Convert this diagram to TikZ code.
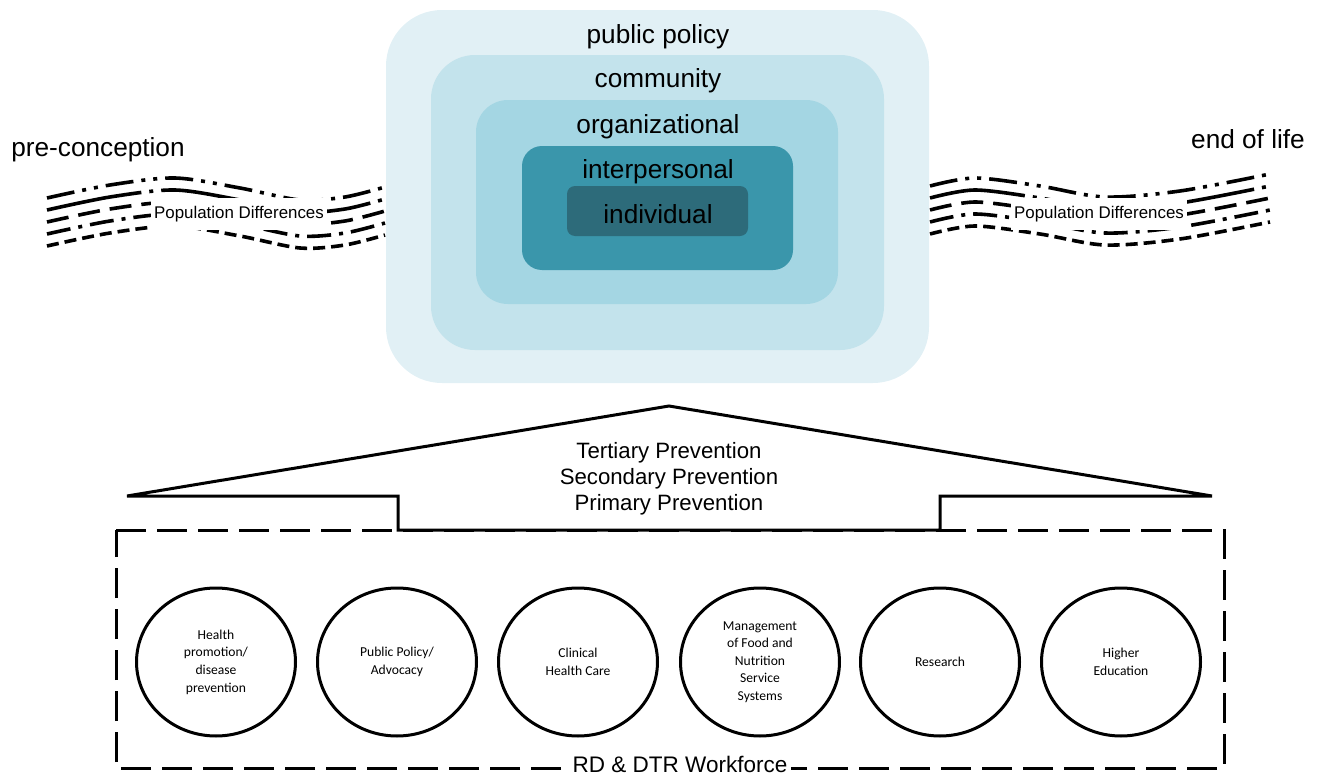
\documentclass[tikz,border=0pt]{standalone}
\usepackage{fontspec}
\setmainfont{Liberation Sans}
\newfontfamily\calibri{Carlito}
\usetikzlibrary{shapes,arrows,positioning}
\definecolor{lvlpolicy}{HTML}{E1F0F5}
\definecolor{lvlcommunity}{HTML}{C3E3EC}
\definecolor{lvlorg}{HTML}{A4D6E3}
\definecolor{lvlinter}{HTML}{3A96AB}
\definecolor{lvlindiv}{HTML}{2D6B7A}
\tikzstyle{level}=[font=\fontsize{13.1}{15}\selectfont, inner sep=0pt]
\tikzstyle{area}=[ellipse,draw,line width=1.5pt,minimum width=79.5pt,minimum height=74pt,inner sep=0pt,align=center,font=\calibri\fontsize{6.8}{8.8}\selectfont]
\tikzstyle{tag}=[fill=white,inner xsep=1.5pt,inner ysep=4pt,font=\fontsize{8.45}{10}\selectfont]
\tikzstyle{wave}=[line width=1.8pt]
\tikzstyle{wave-dotdot}=[dash pattern=on 14pt off 4pt on 2pt off 4pt on 2pt off 4pt]
\tikzstyle{wave-long}=[dash pattern=on 48pt off 4pt on 2pt off 4pt]
\tikzstyle{wave-dash}=[dash pattern=on 11pt off 5pt]
\tikzstyle{wave-dot}=[dash pattern=on 12pt off 4pt on 2pt off 4pt]
\tikzstyle{wave-short}=[dash pattern=on 6pt off 3pt]

\begin{document}
\begin{tikzpicture}[x=0.5pt,y=-0.5pt]
  \useasboundingbox (0,0) rectangle (1319,776);

  % life course bands
  \foreach \d/\s in {0/wave-dotdot, 12/wave-long, 24/wave-dash, 36/wave-dot, 48/wave-short} {
    \draw[wave,\s] plot[smooth] coordinates {(47,198+\d) (110,185+\d) (175,178+\d) (240,188+\d) (300,200+\d) (345,197+\d) (385,187+\d)};
    \draw[wave,\s] plot[smooth] coordinates {(930,186+\d) (975,178+\d) (1040,186+\d) (1105,197+\d) (1180,191+\d) (1270,174+\d)};
  }
  \node[tag] (diff-l) at (239,214) {Population Differences};
  \node[tag] (diff-r) at (1099,214) {Population Differences};
  \node[level] (start) at (98,150) {pre-conception};
  \node[level] (end) at (1248,139) {end of life};

  % nested levels
  \fill[lvlpolicy,rounded corners=28pt] (386,10) rectangle (929,383);
  \fill[lvlcommunity,rounded corners=22pt] (431,55) rectangle (884,350);
  \fill[lvlorg,rounded corners=16pt] (476,100) rectangle (838,304);
  \fill[lvlinter,rounded corners=10pt] (522,146) rectangle (793,270);
  \fill[lvlindiv,rounded corners=4pt] (567,186) rectangle (748,236);
  \node[level] (policy) at (658,37) {public policy};
  \node[level] (community) at (658,81) {community};
  \node[level] (org) at (658,127) {organizational};
  \node[level] (inter) at (658,172) {interpersonal};
  \node[level] (indiv) at (658,214) {individual};

  % workforce box
  \draw[line width=1.5pt,dash pattern=on 15pt off 5.5pt] (116,530) -- (1224,530) -- (1224,768) -- (116,768) -- cycle;
  \node[fill=white,inner sep=2pt,font=\fontsize{11.25}{13}\selectfont] (staff) at (680,764) {RD \& DTR Workforce};

  % prevention roof
  \draw[line width=1.5pt,fill=white,line join=miter] (127,496) -- (669,406) -- (1212,496) -- (940,496) -- (940,530) -- (398,530) -- (398,496) -- cycle;
  \node[align=center,font=\fontsize{11.1}{13}\selectfont] (prev) at (669,479) {Tertiary Prevention\\Secondary Prevention\\Primary Prevention};

  % practice areas
  \foreach \name/\lbl/\x in {health/{Health\\promotion/\\disease\\prevention}/216,
                             policy/{Public Policy/\\Advocacy}/397,
                             clinic/{Clinical\\Health Care}/578,
                             food/{Management\\of Food and\\Nutrition\\Service\\Systems}/760,
                             research/Research/940,
                             edu/{Higher\\Education}/1121}
    \node[area] (T-\name) at (\x,662) {\lbl};

\end{tikzpicture}
\end{document}
